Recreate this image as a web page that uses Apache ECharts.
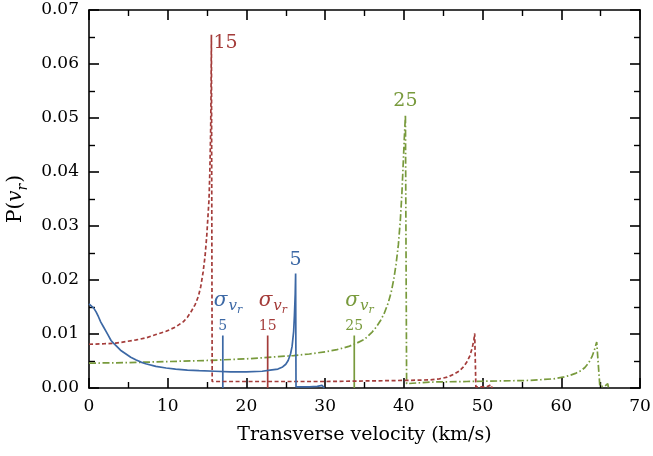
<!DOCTYPE html>
<html>
<head>
<meta charset="utf-8">
<script src="https://cdn.jsdelivr.net/npm/echarts@6/dist/echarts.min.js"></script>
<style>
  html, body { margin: 0; padding: 0; background: #fff; }
  #chart { width: 653px; height: 456px; }
</style>
</head>
<body>
<div id="chart"></div>
<script>
// P(v_r) curves, [velocity km/s, probability]
const sigma5 = [
  [0, 0.0156], [0.25, 0.0153], [0.6, 0.0148], [0.9, 0.0141], [1.2, 0.0132], [1.5, 0.0122],
  [1.85, 0.0113], [2.2, 0.0104], [2.5, 0.0096], [2.8, 0.0088], [3.1, 0.0083], [3.4, 0.0079],
  [4, 0.0070], [4.7, 0.0063], [5.3, 0.0057], [6, 0.0052], [6.6, 0.0048], [7.2, 0.0045],
  [8.5, 0.0040], [9.8, 0.0037], [11, 0.0035], [12.5, 0.0033], [14, 0.0032], [16, 0.0031],
  [18, 0.0030], [20, 0.0030], [22, 0.0031], [23, 0.0033], [24, 0.0035], [24.6, 0.0039],
  [25, 0.0044], [25.3, 0.0051], [25.6, 0.0063], [25.8, 0.0077], [26, 0.0105],
  [26.1, 0.0135], [26.2, 0.0175], [26.25, 0.0212], [26.3, 0.0002], [28, 0.0002],
  [29, 0.0003], [29.6, 0.0005], [29.8, 0.0008], [29.9, 0]
];
const sigma15 = [
  [0, 0.0081], [2, 0.0082], [3.4, 0.0083], [4.7, 0.0086], [6, 0.0089], [7.3, 0.0093],
  [8.5, 0.0099], [9.8, 0.0105], [11, 0.0113], [12, 0.0123], [12.5, 0.0131], [13, 0.0142],
  [13.5, 0.0155], [13.9, 0.0170], [14.2, 0.0188], [14.5, 0.0215], [14.75, 0.0245],
  [14.95, 0.0280], [15.1, 0.0315], [15.25, 0.0350], [15.35, 0.0400], [15.45, 0.0470],
  [15.5, 0.0540], [15.55, 0.0654], [15.65, 0.0012], [20, 0.0012], [25, 0.0012],
  [30, 0.0012], [35, 0.0013], [40, 0.0014], [43.3, 0.0015], [44.5, 0.0017],
  [45.5, 0.0020], [46.3, 0.0025], [47, 0.0031], [47.5, 0.0038], [48, 0.0048],
  [48.4, 0.0060], [48.7, 0.0075], [48.9, 0.0090], [49, 0.0101], [49.15, 0.0002],
  [50.5, 0.0002], [51.1, 0.0006], [51.2, 0]
];
const sigma25 = [
  [0, 0.0046], [5, 0.0047], [10, 0.0049], [15, 0.0051], [20, 0.0054], [24, 0.0058],
  [26, 0.0060], [28, 0.0063], [30, 0.0067], [31.5, 0.0071], [33, 0.0077], [34, 0.0083],
  [35, 0.0090], [36, 0.0104], [36.5, 0.0113], [37, 0.0124], [37.5, 0.0138], [38, 0.0157],
  [38.4, 0.0178], [38.7, 0.0200], [39, 0.0228], [39.3, 0.0265], [39.55, 0.0310],
  [39.75, 0.0360], [39.9, 0.0410], [40.05, 0.0460], [40.2, 0.0506], [40.35, 0.0008],
  [43.3, 0.0011], [48, 0.0012], [52, 0.0013], [56, 0.0014], [59, 0.0017], [60.2, 0.0020],
  [61, 0.0023], [61.8, 0.0027], [62.5, 0.0032], [63, 0.0038], [63.5, 0.0047],
  [63.9, 0.0058], [64.2, 0.0070], [64.5, 0.0085], [64.9, 0.0003], [65.5, 0.0003],
  [65.9, 0.0008], [66, 0]
];
// sigma_vr marker positions and their height
const markerX = [17.0, 22.7, 33.7];
const markerTop = 0.0097;
const markerNames = ['5', '15', '25'];
const peaks = [[26.25, 0.0212], [15.55, 0.0654], [40.2, 0.0506]];

const colors = ['#3c68a5', '#a43c3a', '#789a3c'];
const serif = 'DejaVu Serif';
const xTicks = [0, 70, 10];
const yTicks = [0, 0.07, 0.01];

const chart = echarts.init(document.getElementById('chart'));

function frameAxis(pos, isX, showLabel) {
  const r = isX ? xTicks : yTicks;
  return {
    type: 'value', position: pos, min: r[0], max: r[1], interval: r[2],
    axisLine: { show: true, onZero: false, lineStyle: { color: '#000', width: 1.6 } },
    axisTick: { show: true, inside: true, length: 10, lineStyle: { color: '#000', width: 1.6 } },
    minorTick: { show: true, splitNumber: 2, length: 6, lineStyle: { color: '#000', width: 1.4 } },
    splitLine: { show: false },
    axisLabel: {
      show: showLabel, color: '#000', fontFamily: serif, fontSize: 17, margin: 10,
      formatter: isX ? (v => String(v)) : (v => v.toFixed(2))
    }
  };
}

const xMain = frameAxis('bottom', true, true);
xMain.name = 'Transverse velocity (km/s)';
xMain.nameLocation = 'middle';
xMain.nameGap = 38;
xMain.nameTextStyle = { color: '#000', fontFamily: serif, fontSize: 19 };

const yMain = frameAxis('left', false, true);
yMain.name = '{n|P(}{v|v}{r|r}{n|)}';
yMain.nameLocation = 'middle';
yMain.nameGap = 56;
yMain.nameTextStyle = {
  color: '#000', fontFamily: serif, fontSize: 20,
  rich: {
    n: { fontFamily: serif, fontSize: 20, color: '#000', verticalAlign: 'top', padding: [0, 0, 5, 0] },
    v: { fontFamily: serif, fontSize: 20, fontStyle: 'italic', color: '#000', verticalAlign: 'top', padding: [0, 0, 5, 0] },
    r: { fontFamily: serif, fontSize: 14, fontStyle: 'italic', color: '#000', verticalAlign: 'top', padding: [10, 1, 0, 0] }
  }
};

function sigmaRich(color) {
  return {
    s: { fontFamily: serif, fontSize: 20, fontStyle: 'italic', color: color, verticalAlign: 'top' },
    v: { fontFamily: serif, fontSize: 15, fontStyle: 'italic', color: color, verticalAlign: 'top', padding: [8, 0, 0, 1] },
    r: { fontFamily: serif, fontSize: 11, fontStyle: 'italic', color: color, verticalAlign: 'top', padding: [14, 0, 0, 0] }
  };
}

const curveData = [sigma5, sigma15, sigma25];
const lineTypes = ['solid', [4, 2.5], [7, 2.5, 1.5, 2.5]];
const peakLabel = [
  { position: 'top', distance: 4 },
  { position: 'right', distance: 2, offset: [0, 8] },
  { position: 'top', distance: 4 }
];

const series = [];
curveData.forEach((d, i) => {
  series.push({
    type: 'line', data: d, symbol: 'none', showSymbol: false, silent: true,
    lineStyle: { color: colors[i], width: 1.7, type: lineTypes[i] },
    markPoint: {
      symbol: 'circle', symbolSize: 0, silent: true,
      data: [{
        coord: peaks[i],
        label: Object.assign({
          show: true, formatter: markerNames[i], color: colors[i],
          fontFamily: serif, fontSize: 19
        }, peakLabel[i])
      }]
    },
    z: 3 - i
  });
});
markerX.forEach((x, i) => {
  series.push({
    type: 'line', data: [[x, 0], [x, markerTop]], symbol: 'none', silent: true,
    lineStyle: { color: colors[i], width: 1.7 },
    markPoint: {
      symbol: 'circle', symbolSize: 0, silent: true,
      data: [
        {
          coord: [x, markerTop],
          label: { show: true, position: 'top', distance: 2, formatter: markerNames[i],
            color: colors[i], fontFamily: serif, fontSize: 14 }
        },
        {
          coord: [x, markerTop],
          label: { show: true, position: 'top', align: 'left', offset: [-9, -15],
            formatter: '{s|σ}{v|v}{r|r}', rich: sigmaRich(colors[i]) }
        }
      ]
    },
    z: 1
  });
});

chart.setOption({
  animation: false,
  backgroundColor: '#fff',
  grid: { left: 89, right: 13, top: 10, bottom: 68, outerBoundsMode: 'none' },
  xAxis: [xMain, frameAxis('top', true, false)],
  yAxis: [yMain, frameAxis('right', false, false)],
  series: series
});
</script>
</body>
</html>
